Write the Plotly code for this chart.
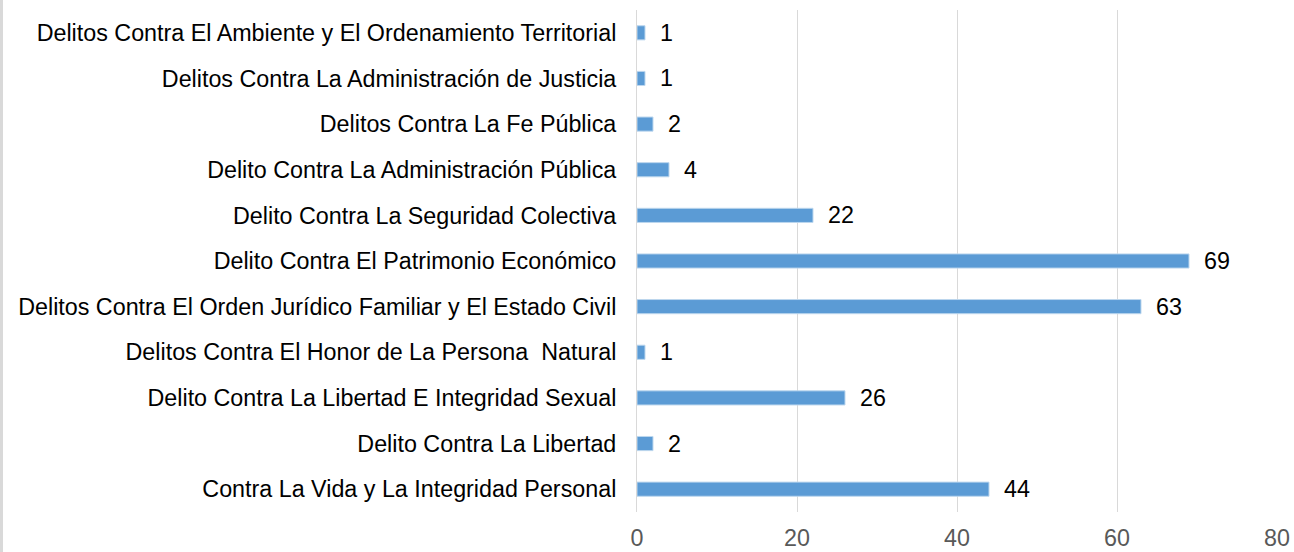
import plotly.graph_objects as go

categories = [
    "Contra La Vida y La Integridad Personal",
    "Delito Contra La Libertad",
    "Delito Contra La Libertad E Integridad Sexual",
    "Delitos Contra El Honor de La Persona  Natural",
    "Delitos Contra El Orden Jurídico Familiar y El Estado Civil",
    "Delito Contra El Patrimonio Económico",
    "Delito Contra La Seguridad Colectiva",
    "Delito Contra La Administración Pública",
    "Delitos Contra La Fe Pública",
    "Delitos Contra La Administración de Justicia",
    "Delitos Contra El Ambiente y El Ordenamiento Territorial",
]
values = [44, 2, 26, 1, 63, 69, 22, 4, 2, 1, 1]
x_ticks = [0, 20, 40, 60, 80]

W, H = 1294, 552
ml, mr, mt, mb = 637, 17, 10, 40
FONT = "Liberation Sans, Arial"
FS = 23.3

fig = go.Figure()
fig.add_trace(go.Bar(
    x=values, y=categories, orientation="h",
    marker=dict(color="#5B9BD5", line=dict(color="#BDD7EE", width=1)),
    width=0.31,
    hoverinfo="x+y",
))

for c, v in zip(categories, values):
    fig.add_annotation(x=v, y=c, text=str(v), showarrow=False,
                       xanchor="left", xshift=13,
                       font=dict(family=FONT, size=FS, color="#000000"))

plot_w = W - ml - mr
fig.add_shape(type="line", xref="paper", yref="paper",
              x0=(1.5 - ml) / plot_w, x1=(1.5 - ml) / plot_w, y0=-1, y1=2,
              line=dict(color="#D9D9D9", width=3))

fig.update_layout(
    width=W, height=H,
    margin=dict(l=ml, r=mr, t=mt, b=mb, autoexpand=False),
    paper_bgcolor="white", plot_bgcolor="white",
    showlegend=False,
    font=dict(family=FONT, size=FS, color="#000000"),
    xaxis=dict(range=[0, 80], tickvals=x_ticks, ticktext=[str(t) for t in x_ticks],
               showgrid=True, gridcolor="#D9D9D9", gridwidth=1, zeroline=False,
               showline=False, ticks="", ticklabelstandoff=10, automargin=False,
               tickfont=dict(family=FONT, size=FS, color="#595959")),
    yaxis=dict(categoryorder="array", categoryarray=categories,
               range=[-0.5, len(categories) - 0.5],
               showgrid=False, zeroline=False, showline=True, linecolor="#D9D9D9",
               ticks="", ticklabelstandoff=15, automargin=False,
               tickfont=dict(family=FONT, size=FS, color="#000000")),
)

fig.write_html("out.html",
               config={"displayModeBar": False},
               post_script="document.body.style.margin='0';document.body.style.overflow='hidden';")
